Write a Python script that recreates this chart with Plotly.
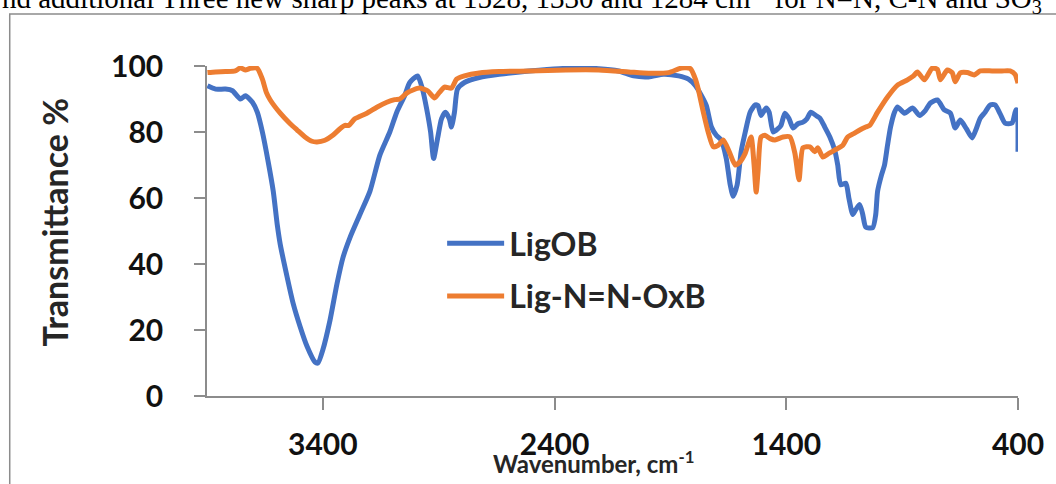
import plotly.graph_objects as go

# ---- data (wavenumber cm-1, transmittance %) ----
lig_ob_wn = [3898, 3863, 3820, 3790, 3756, 3734, 3704, 3683, 3661, 3636, 3614, 3597, 3584,
             3554, 3528, 3498, 3468, 3434, 3421, 3400, 3369, 3339, 3313, 3283, 3240, 3197,
             3154, 3111, 3081, 3047, 3025, 2991, 2970, 2952, 2935, 2922, 2905, 2888, 2871,
             2854, 2845, 2832, 2819, 2789, 2725, 2639, 2510, 2381, 2209, 2123, 2059, 1994,
             1930, 1865, 1822, 1792, 1766, 1745, 1723, 1702, 1681, 1659, 1642, 1629, 1612,
             1595, 1577, 1556, 1534, 1522, 1509, 1487, 1474, 1457, 1436, 1423, 1406, 1388,
             1371, 1350, 1328, 1311, 1294, 1272, 1255, 1234, 1212, 1191, 1178, 1165, 1143,
             1130, 1113, 1100, 1083, 1070, 1057, 1027, 1014, 1006, 989, 976, 963, 950, 933,
             920, 890, 855, 825, 800, 778, 748, 718, 692, 671, 649, 623, 598, 580, 563, 542,
             520, 499, 477, 456, 426, 409, 404, 400]
lig_ob_t = [94, 93, 93, 92.5, 90, 91, 89, 86, 80, 71, 62, 52, 46,
            36, 28, 21, 15, 10.3, 10, 14, 23, 34, 42, 48, 55, 62,
            73, 80, 86, 91, 95, 97, 93, 87, 80, 72, 78, 84, 86,
            84, 81.5, 86, 93, 95, 96.5, 97.5, 98.5, 99.2, 99.2, 98.5, 97, 96.7,
            97.5, 97, 96, 94, 91, 88, 81.5, 79, 77.6, 72, 64, 60.5, 64,
            74, 80, 86, 88.2, 88, 85, 87.3, 86, 80, 81, 82, 85.7, 84,
            81.2, 82.5, 83, 84, 86, 85, 84.2, 81.5, 78.5, 74.5, 70, 64, 64.5,
            60, 55, 56.5, 58, 55, 51.2, 51, 55, 62, 67, 70, 76, 81.5, 86,
            87.6, 85.7, 87.3, 85, 86.5, 88.8, 89.7, 86.7, 85.7, 81.2, 83.6, 81, 78.2, 81, 84.2, 86,
            88.2, 88.2, 85.5, 82.7, 82.7, 86.7, 86.5, 74]

lig_azo_wn = [3898, 3863, 3820, 3778, 3756, 3734, 3713, 3683, 3661, 3644, 3627, 3584, 3541,
              3511, 3477, 3447, 3425, 3391, 3357, 3326, 3305, 3288, 3262, 3210, 3167, 3124,
              3090, 3068, 3038, 3008, 2983, 2948, 2918, 2897, 2875, 2845, 2823, 2789, 2725,
              2639, 2510, 2351, 2209, 2080, 1994, 1908, 1852, 1814, 1792, 1779, 1758, 1736,
              1715, 1693, 1672, 1646, 1620, 1599, 1577, 1552, 1539, 1530, 1522, 1509, 1492,
              1470, 1449, 1414, 1384, 1363, 1345, 1328, 1298, 1277, 1264, 1242, 1216, 1191,
              1156, 1135, 1109, 1083, 1057, 1040, 1006, 963, 920, 877, 851, 834, 804, 770,
              748, 735, 705, 684, 671, 649, 619, 589, 563, 512, 469, 434, 413, 400]
lig_azo_t = [98, 98.2, 98.3, 98.5, 99.4, 98.8, 99.3, 99.3, 96, 92, 89.7, 85.7, 82.5,
             80.6, 78.5, 77.2, 77, 77.5, 79, 81, 82, 82, 84, 85.7, 87.5, 89,
             89.8, 90, 91.8, 92.8, 93.3, 92.5, 90.3, 92, 93.6, 93.3, 96, 97, 97.9,
             98.3, 98.5, 98.8, 98.8, 98.2, 97.8, 98, 99.4, 99.2, 96, 92.7, 86, 79.7,
             75.5, 76, 77.6, 74, 70, 71, 73.6, 78.5, 70, 61.8, 68, 78.5, 79,
             78, 77.6, 78.5, 78.5, 73.6, 65.5, 75.2, 75.5, 74, 75.2, 72.4, 73.5, 74.5,
             76, 78.5, 79.5, 80.6, 81.5, 82, 86, 90.6, 94.2, 95.8, 97, 98.2, 95.8, 99.4,
             99, 95.8, 98.8, 98, 95.2, 97.9, 98, 97.3, 98.5, 98.5, 98.5, 98.5, 97.5, 94.8]

series_names = ["LigOB", "Lig-N=N-OxB"]
x_tick_vals = [3400, 2400, 1400, 400]
y_tick_vals = [0, 20, 40, 60, 80, 100]

# ---- layout geometry (pixels) ----
W, H = 1056, 484
L, R, T, B = 207, 1021, 66, 396
pw, ph = R - L, B - T


def px(xp):
    return (xp - L) / pw


def py(yp):
    return (B - yp) / ph


fig = go.Figure()
fig.add_trace(go.Scatter(x=lig_ob_wn, y=lig_ob_t, mode="lines", name=series_names[0],
                         line=dict(color="#4472C4", width=5, shape="spline", smoothing=0.6),
                         legendgroup="a"))
fig.add_trace(go.Scatter(x=lig_azo_wn, y=lig_azo_t, mode="lines", name=series_names[1],
                         line=dict(color="#ED7D31", width=5, shape="spline", smoothing=0.6),
                         legendgroup="b"))

tick_font = dict(family="Lato", size=30, color="#111111", weight="bold")
axis_col = "#8c8c8c"

fig.update_layout(
    width=W, height=H,
    margin=dict(l=L, r=W - R, t=T, b=H - B, pad=0),
    paper_bgcolor="white", plot_bgcolor="white",
    showlegend=True,
    legend=dict(x=px(443), y=py(216), xanchor="left", yanchor="top",
                font=dict(family="Lato", size=32, color="#262626", weight="bold"),
                bgcolor="rgba(0,0,0,0)", itemwidth=57, tracegroupgap=8,
                traceorder="grouped"),
    xaxis=dict(range=[3900, 400], tickvals=x_tick_vals, ticktext=[str(v) for v in x_tick_vals],
               showgrid=False, zeroline=False, showline=True, linecolor=axis_col, linewidth=1.5,
               ticks="outside", ticklen=12, tickcolor=axis_col, tickwidth=1.5,
               tickfont=tick_font, ticklabelstandoff=9),
    yaxis=dict(range=[0, 100], tickvals=y_tick_vals,
               showgrid=False, zeroline=False, showline=True, linecolor=axis_col, linewidth=1.5,
               ticks="outside", ticklen=11, tickcolor=axis_col, tickwidth=1.5,
               tickfont=tick_font, ticklabelstandoff=25),
)

# axis titles
fig.add_annotation(text="Transmittance %", textangle=-90, xref="paper", yref="paper",
                   x=px(53), y=py(222), xanchor="center", yanchor="middle", showarrow=False,
                   font=dict(family="Lato", size=34, color="#262626", weight="bold"))
fig.add_annotation(text="Wavenumber, cm<sup>-1</sup>", xref="paper", yref="paper",
                   x=px(595), y=py(462), xanchor="center", yanchor="middle", showarrow=False,
                   font=dict(family="Lato", size=24, color="#262626", weight="bold"))

# clipped document text line above the chart frame
fig.add_annotation(text="nd additional Three new sharp peaks at 1528, 1330 and 1284 cm<sup>-1</sup> for N=N, C-N and SO<sub>3</sub>",
                   xref="paper", yref="paper", x=px(-1), y=py(20), xanchor="left", yanchor="bottom",
                   showarrow=False, font=dict(family="Liberation Serif", size=29, color="#000000"))

# chart frame
fig.add_shape(type="rect", xref="paper", yref="paper", x0=px(9), x1=px(1070), y0=py(500), y1=py(14),
              line=dict(color="#8c8c8c", width=1.5), fillcolor="rgba(0,0,0,0)", layer="below")

fig.write_html("out.html")
